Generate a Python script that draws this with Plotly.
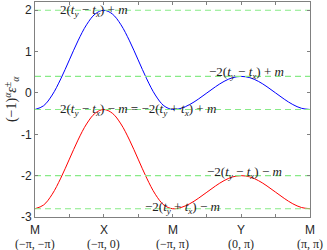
import numpy as np
import plotly.graph_objects as go

# ---- data ----
path_ticks = [0, 1, 2, 3, 4]
tick_letters = ["M", "X", "M", "Y", "M"]
tick_coords = ["(−π, −π)", "(−π, 0)", "(−π, π)", "(0, π)", "(π, π)"]
k_path = np.linspace(0, 4, 33)

band_plus = [-0.4, -0.31, -0.05, 0.34, 0.8, 1.26, 1.65, 1.91, 2.0,
             1.91, 1.65, 1.26, 0.8, 0.34, -0.05, -0.31, -0.4,
             -0.37, -0.28, -0.15, 0.0, 0.15, 0.28, 0.37, 0.4,
             0.37, 0.28, 0.15, 0.0, -0.15, -0.28, -0.37, -0.4]
band_minus = [-2.8, -2.71, -2.45, -2.06, -1.6, -1.14, -0.75, -0.49, -0.4,
              -0.49, -0.75, -1.14, -1.6, -2.06, -2.45, -2.71, -2.8,
              -2.77, -2.68, -2.55, -2.4, -2.25, -2.12, -2.03, -2.0,
              -2.03, -2.12, -2.25, -2.4, -2.55, -2.68, -2.77, -2.8]

levels = [2.0, 0.4, -0.4, -2.0, -2.8]
level_labels = [
    "2(<i>t</i><sub><i>y</i></sub> − <i>t</i><sub><i>x</i></sub>) + <i>m</i>",
    "−2(<i>t</i><sub><i>y</i></sub> − <i>t</i><sub><i>x</i></sub>) + <i>m</i>",
    "2(<i>t</i><sub><i>y</i></sub> − <i>t</i><sub><i>x</i></sub>) − <i>m</i> = −2(<i>t</i><sub><i>y</i></sub> + <i>t</i><sub><i>x</i></sub>) + <i>m</i>",
    "−2(<i>t</i><sub><i>y</i></sub> − <i>t</i><sub><i>x</i></sub>) − <i>m</i>",
    "−2(<i>t</i><sub><i>y</i></sub> + <i>t</i><sub><i>x</i></sub>) − <i>m</i>",
]
label_x = [0.335, 2.5, 0.335, 2.47, 1.57]
label_yshift = [0, 4, 0, 3, 1]

y_ticks = [-3, -2, -1, 0, 1, 2]

fig = go.Figure()
fig.add_trace(go.Scatter(x=k_path, y=band_plus, mode="lines",
                         line=dict(color="rgb(0,0,255)", width=1, shape="spline", smoothing=1.0),
                         showlegend=False))
fig.add_trace(go.Scatter(x=k_path, y=band_minus, mode="lines",
                         line=dict(color="rgb(255,0,0)", width=1, shape="spline", smoothing=1.0),
                         showlegend=False))
for lv in levels:
    fig.add_trace(go.Scatter(x=[path_ticks[0], path_ticks[-1]], y=[lv, lv], mode="lines",
                             line=dict(color="rgb(135,235,135)", width=1.2, dash="6px,4px"),
                             showlegend=False))

serif = "Liberation Serif, DejaVu Serif, serif"
sans = "Liberation Sans, Arial, sans-serif"

for txt, lx, lv, ys in zip(level_labels, label_x, levels, label_yshift):
    fig.add_annotation(x=lx, y=lv, xref="x", yref="y", text=txt, showarrow=False,
                       xanchor="left", yanchor="middle", yshift=ys,
                       font=dict(family=serif, size=13, color="#222"))

for tv, let, crd in zip(path_ticks, tick_letters, tick_coords):
    fig.add_annotation(x=tv, y=0, xref="x", yref="paper", text=let, showarrow=False,
                       xanchor="center", yanchor="top", yshift=-4,
                       font=dict(family=sans, size=12, color="#262626"))
    fig.add_annotation(x=tv, y=0, xref="x", yref="paper", text=crd, showarrow=False,
                       xanchor="center", yanchor="top", yshift=-18,
                       font=dict(family=serif, size=12, color="#262626"))

fig.add_annotation(x=-0.086, y=0.55, xref="paper", yref="paper",
                   text="(−1)<sup><i>α</i></sup><i>ε</i><sup>±</sup><sub><i>α</i></sub>",
                   showarrow=False, textangle=-90, xanchor="center", yanchor="middle",
                   font=dict(family=serif, size=14, color="#262626"))

fig.update_xaxes(range=[0, 4], tickmode="linear", tick0=0, dtick=0.5, showticklabels=False,
                 ticks="inside", ticklen=3, tickcolor="#808080", showgrid=False, zeroline=False,
                 showline=True, linecolor="#808080", linewidth=1, mirror="ticks")
fig.update_yaxes(range=[-3, 2.2], tickvals=y_ticks, ticktext=[str(v) for v in y_ticks],
                 ticks="inside", ticklen=3, tickcolor="#808080", showgrid=False, zeroline=False,
                 showline=True, linecolor="#808080", linewidth=1, mirror="ticks",
                 tickfont=dict(family=sans, size=12, color="#262626"))

fig.update_layout(width=327, height=250, margin=dict(l=35, r=17, t=2, b=33),
                  plot_bgcolor="white", paper_bgcolor="white")

fig.write_html("out.html", config={"displayModeBar": False},
               post_script="document.body.style.margin='0';document.body.style.overflow='hidden';")
